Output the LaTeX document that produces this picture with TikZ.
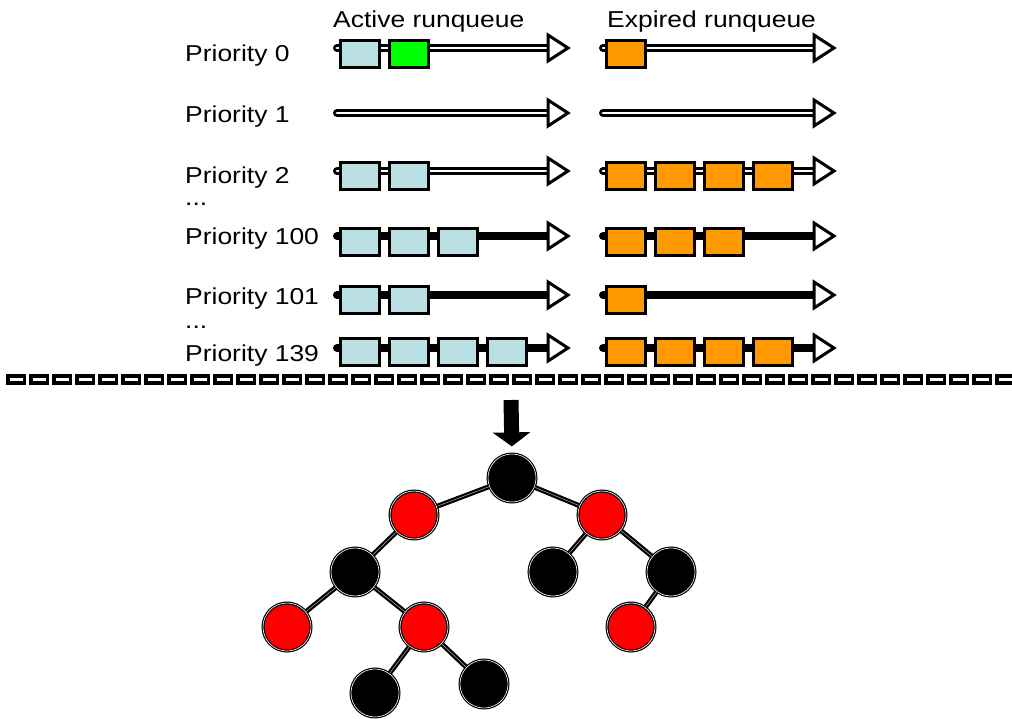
\documentclass[tikz,border=0pt]{standalone}
\usepackage{fontspec}
\setmainfont{Liberation Sans}
\usetikzlibrary{arrows.meta}

\definecolor{qblue}{RGB}{187,224,228}
\definecolor{qgreen}{RGB}{0,255,0}
\definecolor{qorange}{RGB}{255,153,0}
\definecolor{rbredc}{RGB}{255,0,0}

% widened sans text
\newcommand\stretchtext[1]{\scalebox{1.15}[1]{#1}}

\tikzset{
  lbl/.style={anchor=base west, inner sep=0pt, font=\fontsize{23}{27}\selectfont},
  qbox/.style={draw=black, line width=3pt, minimum width=39pt, minimum height=27pt, inner sep=0pt},
  emptyq/.style={draw=black, line width=2.6pt, double=white, double distance=2.8pt, line cap=round},
  fullq/.style={draw=black, line width=8pt, line cap=round},
  qhead/.style={draw=black, fill=white, line width=3pt, line join=miter},
  rbnode/.style={circle, minimum size=48pt, inner sep=0pt, draw=black, line width=1.2pt,
                 double=white, double distance=0.6pt},
  rbblack/.style={rbnode, fill=black},
  rbred/.style={rbnode, fill=rbredc},
  rbedge/.style={draw=black, line width=2.2pt, double=gray!60, double distance=0.5pt},
}

\begin{document}
\begin{tikzpicture}[x=1pt, y=-1pt]
\useasboundingbox (0,0) rectangle (1012,719);

% column headers
\node[lbl] (hact) at (333,28) {\stretchtext{Active runqueue}};
\node[lbl] (hexp) at (607,28) {\stretchtext{Expired runqueue}};

% priority labels
\node[lbl] (lp0)   at (185,62)  {\stretchtext{Priority 0}};
\node[lbl] (lp1)   at (185,123) {\stretchtext{Priority 1}};
\node[lbl] (lp2)   at (185,184) {\stretchtext{Priority 2}};
\node[lbl] (dots1) at (185,206) {\stretchtext{...}};
\node[lbl] (lp100) at (185,245) {\stretchtext{Priority 100}};
\node[lbl] (lp101) at (185,305) {\stretchtext{Priority 101}};
\node[lbl] (dots2) at (185,328) {\stretchtext{...}};
\node[lbl] (lp139) at (185,361) {\stretchtext{Priority 139}};

% queue lists with open arrow heads
\foreach \r/\y/\s in {0/48/emptyq, 1/113/emptyq, 2/171/emptyq,
                      100/236/fullq, 101/295/fullq, 139/348/fullq} {
  \coordinate (act\r s) at (337,\y);
  \coordinate (act\r e) at (548,\y);
  \coordinate (exp\r s) at (603,\y);
  \coordinate (exp\r e) at (814,\y);
  \draw[\s] (act\r s) -- (act\r e);
  \draw[\s] (exp\r s) -- (exp\r e);
  \draw[qhead, shift={(act\r e)}] (0,-13) -- (20,0) -- (0,13) -- cycle;
  \draw[qhead, shift={(exp\r e)}] (0,-13) -- (20,0) -- (0,13) -- cycle;
}

% tasks in the active queues
\node[qbox, fill=qblue]  (a0t1) at (360,54) {};
\node[qbox, fill=qgreen] (a0t2) at (409,54) {};
\node[qbox, fill=qblue]  (a2t1) at (360,176) {};
\node[qbox, fill=qblue]  (a2t2) at (409,176) {};
\node[qbox, fill=qblue]  (a100t1) at (360,242) {};
\node[qbox, fill=qblue]  (a100t2) at (409,242) {};
\node[qbox, fill=qblue]  (a100t3) at (458,242) {};
\node[qbox, fill=qblue]  (a101t1) at (360,300) {};
\node[qbox, fill=qblue]  (a101t2) at (409,300) {};
\node[qbox, fill=qblue]  (a139t1) at (360,352) {};
\node[qbox, fill=qblue]  (a139t2) at (409,352) {};
\node[qbox, fill=qblue]  (a139t3) at (458,352) {};
\node[qbox, fill=qblue]  (a139t4) at (507,352) {};

% tasks in the expired queues
\node[qbox, fill=qorange] (e0t1) at (626,54) {};
\node[qbox, fill=qorange] (e2t1) at (626,176) {};
\node[qbox, fill=qorange] (e2t2) at (675,176) {};
\node[qbox, fill=qorange] (e2t3) at (724,176) {};
\node[qbox, fill=qorange] (e2t4) at (773,176) {};
\node[qbox, fill=qorange] (e100t1) at (626,242) {};
\node[qbox, fill=qorange] (e100t2) at (675,242) {};
\node[qbox, fill=qorange] (e100t3) at (724,242) {};
\node[qbox, fill=qorange] (e101t1) at (626,300) {};
\node[qbox, fill=qorange] (e139t1) at (626,352) {};
\node[qbox, fill=qorange] (e139t2) at (675,352) {};
\node[qbox, fill=qorange] (e139t3) at (724,352) {};
\node[qbox, fill=qorange] (e139t4) at (773,352) {};

% separator
\coordinate (sepL) at (6,379);
\coordinate (sepR) at (1012,379);
\draw[line width=11pt, dash pattern=on 20pt off 3pt] (sepL) -- (sepR);
\draw[white, line width=3pt, dash pattern=on 13pt off 10pt, dash phase=19.5pt] (sepL) -- (sepR);

% red-black tree
\node[rbblack] (root) at (512,478) {};
\node[rbred]   (l)    at (414,515) {};
\node[rbred]   (r)    at (602,515) {};
\node[rbblack] (ll)   at (355,572) {};
\node[rbblack] (rl)   at (553,572) {};
\node[rbblack] (rr)   at (671,572) {};
\node[rbred]   (lll)  at (287,627) {};
\node[rbred]   (llr)  at (424,627) {};
\node[rbred]   (rrl)  at (631,627) {};
\node[rbblack] (llrl) at (375,693) {};
\node[rbblack] (llrr) at (484,684) {};

\draw[rbedge] (root) -- (l);
\draw[rbedge] (root) -- (r);
\draw[rbedge] (l) -- (ll);
\draw[rbedge] (r) -- (rl);
\draw[rbedge] (r) -- (rr);
\draw[rbedge] (ll) -- (lll);
\draw[rbedge] (ll) -- (llr);
\draw[rbedge] (rr) -- (rrl);
\draw[rbedge] (llr) -- (llrl);
\draw[rbedge] (llr) -- (llrr);

% arrow from the queues down to the tree
\coordinate (downtop) at (511,400);
\draw[line width=15pt, -{Triangle[width=37pt,length=14pt]}, shorten >=7pt] (downtop) -- (root.north);
\end{tikzpicture}
\end{document}
